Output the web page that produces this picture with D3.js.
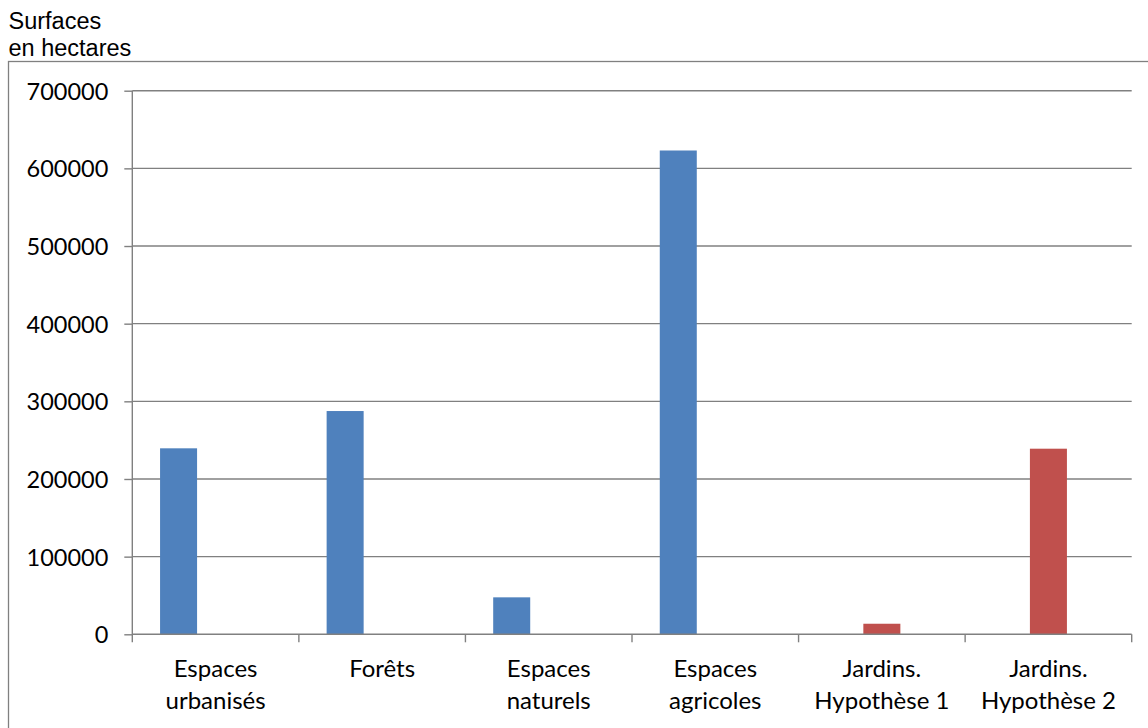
<!DOCTYPE html>
<html>
<head>
<meta charset="utf-8">
<script src="https://cdn.jsdelivr.net/npm/d3@7"></script>
<style>
  html, body { margin: 0; padding: 0; background: #fff; }
  svg { display: block; }
</style>
</head>
<body>
<svg id="chart" width="1148" height="728"></svg>
<script>
// ---- data ----
const categories = [
  ["Espaces", "urbanisés"],
  ["Forêts"],
  ["Espaces", "naturels"],
  ["Espaces", "agricoles"],
  ["Jardins.", "Hypothèse 1"],
  ["Jardins.", "Hypothèse 2"]
];
const seriesNames = ["Espaces", "Jardins"];
const espacesValues = [239500, 287500, 47600, 623000, null, null];
const jardinsValues = [null, null, null, null, 13600, 239000];
const seriesColors = ["#4F81BD", "#C0504D"];
const yTicks = [0, 100000, 200000, 300000, 400000, 500000, 600000, 700000];
const yTitle = ["Surfaces", "en hectares"];

// ---- layout ----
const W = 1148, H = 728;
const plot = { left: 132.3, right: 1131.7, top: 90.7, bottom: 634.3 };
const svg = d3.select("#chart");
const gridColor = "#808080";
const labelFont = "Lato, 'Open Sans', sans-serif";

// chart border (frame extends beyond the canvas on right/bottom)
svg.append("rect")
  .attr("x", 8.5).attr("y", 61.5)
  .attr("width", W + 10).attr("height", H + 10)
  .attr("fill", "none").attr("stroke", gridColor).attr("stroke-width", 1.3);

// y-axis title
svg.append("text")
  .attr("font-family", "'Liberation Sans', Arial, sans-serif")
  .attr("font-size", 23.5)
  .attr("fill", "#000")
  .selectAll("tspan").data(yTitle).join("tspan")
  .attr("x", 8.5)
  .attr("y", (d, i) => 29 + i * 27)
  .text(d => d);

const keys = categories.map((c, i) => "c" + i);
const x0 = d3.scaleBand().domain(keys).range([plot.left, plot.right]).paddingInner(0).paddingOuter(0);
const x1 = d3.scaleBand().domain(seriesNames).range([0, x0.bandwidth()])
  .paddingInner(0).paddingOuter(1.25).align(0.3);
const y = d3.scaleLinear().domain([0, 700000]).range([plot.bottom, plot.top]);

// gridlines
svg.append("g").selectAll("line")
  .data(yTicks.filter(t => t > 0)).join("line")
  .attr("x1", plot.left).attr("x2", plot.right)
  .attr("y1", d => y(d)).attr("y2", d => y(d))
  .attr("stroke", gridColor).attr("stroke-width", 1.4);

// bars
const seriesData = [espacesValues, jardinsValues];
seriesNames.forEach((s, si) => {
  svg.append("g").selectAll("rect")
    .data(seriesData[si].map((v, i) => ({ v, k: keys[i] })).filter(d => d.v != null))
    .join("rect")
    .attr("x", d => x0(d.k) + x1(s))
    .attr("width", x1.bandwidth())
    .attr("y", d => y(d.v))
    .attr("height", d => y(0) - y(d.v))
    .attr("fill", seriesColors[si]);
});

// y axis
const yAxis = svg.append("g")
  .attr("transform", `translate(${plot.left},0)`)
  .call(d3.axisLeft(y).tickValues(yTicks).tickFormat(d3.format("d")).tickSize(8).tickPadding(16).tickSizeOuter(0));
yAxis.select(".domain").remove();
yAxis.selectAll(".tick line").attr("stroke", gridColor).attr("stroke-width", 1.4);
yAxis.selectAll(".tick text")
  .attr("font-family", labelFont).attr("font-size", 23.5).attr("fill", "#000").attr("dy", "0.36em");
svg.append("line")
  .attr("x1", plot.left).attr("x2", plot.left)
  .attr("y1", plot.top).attr("y2", plot.bottom + 8)
  .attr("stroke", gridColor).attr("stroke-width", 1.4);

// x axis
const xg = svg.append("g");
xg.append("line")
  .attr("x1", plot.left).attr("x2", plot.right)
  .attr("y1", y(0)).attr("y2", y(0))
  .attr("stroke", gridColor).attr("stroke-width", 1.4);
const boundaries = keys.map(k => x0(k)).concat([x0(keys[keys.length - 1]) + x0.bandwidth()]);
xg.selectAll("line.tk").data(boundaries.slice(1)).join("line")
  .attr("class", "tk")
  .attr("x1", d => d).attr("x2", d => d)
  .attr("y1", y(0)).attr("y2", y(0) + 8)
  .attr("stroke", gridColor).attr("stroke-width", 1.4);
xg.selectAll("text.cat").data(categories).join("text")
  .attr("class", "cat")
  .attr("text-anchor", "middle")
  .attr("font-family", labelFont).attr("font-size", 24).attr("fill", "#000")
  .each(function (lines, i) {
    d3.select(this).selectAll("tspan").data(lines).join("tspan")
      .attr("x", x0(keys[i]) + x0.bandwidth() / 2)
      .attr("y", (d, j) => 677 + j * 32)
      .text(d => d);
  });
</script>
</body>
</html>
